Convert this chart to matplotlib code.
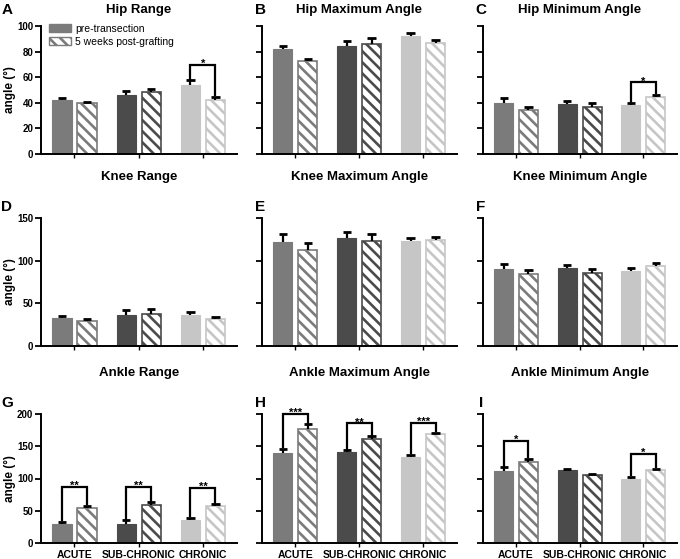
import matplotlib
matplotlib.use('Agg')
import matplotlib.pyplot as plt
from matplotlib.patches import Patch

plt.rcParams['font.family'] = ['Liberation Sans', 'DejaVu Sans']
plt.rcParams['hatch.linewidth'] = 1.9

# groups and series
groups = ['ACUTE', 'SUB-CHRONIC', 'CHRONIC']
series_names = ['pre-transection', '5 weeks post-grafting']
group_colors = ['#7b7b7b', '#4b4b4b', '#c6c6c6']

# mean values and error (SEM)
hip_range_pre = [42.4, 46.1, 53.9]
hip_range_pre_err = [1.6, 3.0, 3.9]
hip_range_post = [39.5, 48.4, 42.2]
hip_range_post_err = [1.2, 2.6, 2.6]
hip_range_sig = [(2, 69.5, '*')]

hip_max_pre = [82.3, 84.1, 92.2]
hip_max_pre_err = [2.3, 4.4, 2.6]
hip_max_post = [72.9, 86.2, 87.0]
hip_max_post_err = [1.3, 4.2, 2.3]
hip_max_sig = []

hip_min_pre = [40.0, 38.8, 38.0]
hip_min_pre_err = [3.7, 2.6, 1.6]
hip_min_post = [34.4, 37.0, 44.8]
hip_min_post_err = [2.6, 2.6, 1.5]
hip_min_sig = [(2, 56, '*')]

knee_range_pre = [32.4, 36.0, 36.7]
knee_range_pre_err = [3.2, 6.2, 3.1]
knee_range_post = [29.3, 37.5, 31.7]
knee_range_post_err = [2.7, 5.9, 2.3]
knee_range_sig = []

knee_max_pre = [122.4, 126.0, 123.6]
knee_max_pre_err = [8.6, 7.7, 3.4]
knee_max_post = [112.8, 122.8, 124.4]
knee_max_post_err = [7.7, 8.2, 3.9]
knee_max_sig = []

knee_min_pre = [90.0, 91.6, 87.4]
knee_min_pre_err = [6.3, 3.9, 3.5]
knee_min_post = [83.9, 85.7, 94.0]
knee_min_post_err = [4.6, 4.0, 3.0]
knee_min_sig = []

ankle_range_pre = [29.4, 30.0, 35.0]
ankle_range_pre_err = [3.6, 5.0, 4.4]
ankle_range_post = [55.0, 59.0, 57.0]
ankle_range_post_err = [3.0, 3.8, 3.6]
ankle_range_sig = [(0, 87, '**'), (1, 87, '**'), (2, 86, '**')]

ankle_max_pre = [139.7, 141.2, 134.0]
ankle_max_pre_err = [6.7, 3.2, 3.0]
ankle_max_post = [177.2, 162.0, 168.3]
ankle_max_post_err = [6.8, 3.6, 2.7]
ankle_max_sig = [(0, 200, '***'), (1, 185.5, '**'), (2, 186.5, '***')]

ankle_min_pre = [111.0, 113.0, 99.5]
ankle_min_pre_err = [6.8, 2.2, 3.2]
ankle_min_post = [125.0, 104.7, 112.5]
ankle_min_post_err = [5.8, 2.1, 2.7]
ankle_min_sig = [(0, 158, '*'), (2, 138, '*')]

panels = [
    ('A', 'Hip Range', hip_range_pre, hip_range_pre_err, hip_range_post, hip_range_post_err, hip_range_sig),
    ('B', 'Hip Maximum Angle', hip_max_pre, hip_max_pre_err, hip_max_post, hip_max_post_err, hip_max_sig),
    ('C', 'Hip Minimum Angle', hip_min_pre, hip_min_pre_err, hip_min_post, hip_min_post_err, hip_min_sig),
    ('D', 'Knee Range', knee_range_pre, knee_range_pre_err, knee_range_post, knee_range_post_err, knee_range_sig),
    ('E', 'Knee Maximum Angle', knee_max_pre, knee_max_pre_err, knee_max_post, knee_max_post_err, knee_max_sig),
    ('F', 'Knee Minimum Angle', knee_min_pre, knee_min_pre_err, knee_min_post, knee_min_post_err, knee_min_sig),
    ('G', 'Ankle Range', ankle_range_pre, ankle_range_pre_err, ankle_range_post, ankle_range_post_err, ankle_range_sig),
    ('H', 'Ankle Maximum Angle', ankle_max_pre, ankle_max_pre_err, ankle_max_post, ankle_max_post_err, ankle_max_sig),
    ('I', 'Ankle Minimum Angle', ankle_min_pre, ankle_min_pre_err, ankle_min_post, ankle_min_post_err, ankle_min_sig),
]

# layout in pixels
W, H = 680, 559
cols = [(41, 237), (262, 457), (483, 677)]
rows = [(26, 154), (218, 346), (414, 543)]
row_ymax = [100, 150, 200]
row_ystep = [20, 50, 50]
title_y = [10, 177, 373]
letter_y = [10, 207, 403]
letter_x = [7, 260, 481]

fig = plt.figure(figsize=(W / 100, H / 100), dpi=100)

width = 0.30
off = 0.195
cap = 0.065
hatch = '\\\\\\'

for k, (letter, title, pre, pre_err, post, post_err, sig) in enumerate(panels):
    r, c = divmod(k, 3)
    x0, x1 = cols[c]
    y0, y1 = rows[r]
    ax = fig.add_axes([x0 / W, 1 - y1 / H, (x1 - x0) / W, (y1 - y0) / H])
    ymax = row_ymax[r]

    for i in range(3):
        ax.bar(i - off, pre[i], width, color=group_colors[i], edgecolor=group_colors[i], linewidth=0.8)
        ax.bar(i + off, post[i], width, facecolor='white', edgecolor=group_colors[i],
               hatch=hatch, linewidth=1.2)
        # one-sided error bars (upwards)
        for x, y, e in [(i - off, pre[i], pre_err[i]), (i + off, post[i], post_err[i])]:
            ax.vlines(x, y, y + e, color='black', linewidth=1.6)
            ax.hlines(y + e, x - cap, x + cap, color='black', linewidth=2.0)

    # significance brackets
    gap = ymax * 0.01
    for g, h, lab in sig:
        xl, xr = g - off, g + off
        yl = pre[g] + pre_err[g] + gap
        yr = post[g] + post_err[g] + gap
        ax.plot([xl, xl, xr, xr], [yl, h, h, yr], color='black', linewidth=1.6,
                clip_on=False, solid_joinstyle='miter')
        ax.annotate(lab, (g, h), xytext=(0, -3), textcoords='offset points',
                    ha='center', va='bottom', fontsize=8, fontweight='bold', annotation_clip=False)

    ax.set_xlim(-0.52, 2.53)
    ax.set_ylim(0, ymax)
    ax.set_yticks(range(0, ymax + 1, row_ystep[r]))
    ax.set_xticks(range(3))
    for s in ['top', 'right']:
        ax.spines[s].set_visible(False)
    for s in ['left', 'bottom']:
        ax.spines[s].set_linewidth(1.4)
    ax.tick_params(axis='y', length=4, width=1.3, labelsize=7, pad=1.5)
    ax.tick_params(axis='x', length=3, width=1.0, labelsize=7.5, pad=2)
    for t in ax.get_yticklabels():
        t.set_fontweight('bold')

    if r == 2:
        ax.set_xticklabels(groups, fontweight='bold')
    else:
        ax.set_xticklabels([])
    if c == 0:
        ax.set_ylabel('angle (°)', fontsize=8.5, fontweight='bold')
        ax.yaxis.set_label_coords(-0.125, 0.5)
    else:
        ax.set_yticklabels([])

    fig.text(((x0 + x1) / 2) / W, 1 - title_y[r] / H, title, ha='center', va='center',
             fontsize=9.5, fontweight='bold')
    fig.text(letter_x[c] / W, 1 - letter_y[r] / H, letter, ha='center', va='center',
             fontsize=11, fontweight='bold')

    if k == 0:
        handles = [Patch(facecolor=group_colors[0], edgecolor=group_colors[0]),
                   Patch(facecolor='white', edgecolor=group_colors[0], hatch=hatch)]
        ax.legend(handles, series_names, loc='upper left', bbox_to_anchor=(0.02, 1.05),
                  frameon=False, fontsize=7.5, handlelength=2.1, handleheight=0.8,
                  handletextpad=0.4, labelspacing=0.3, borderaxespad=0)

fig.savefig('out.png', dpi=100)
